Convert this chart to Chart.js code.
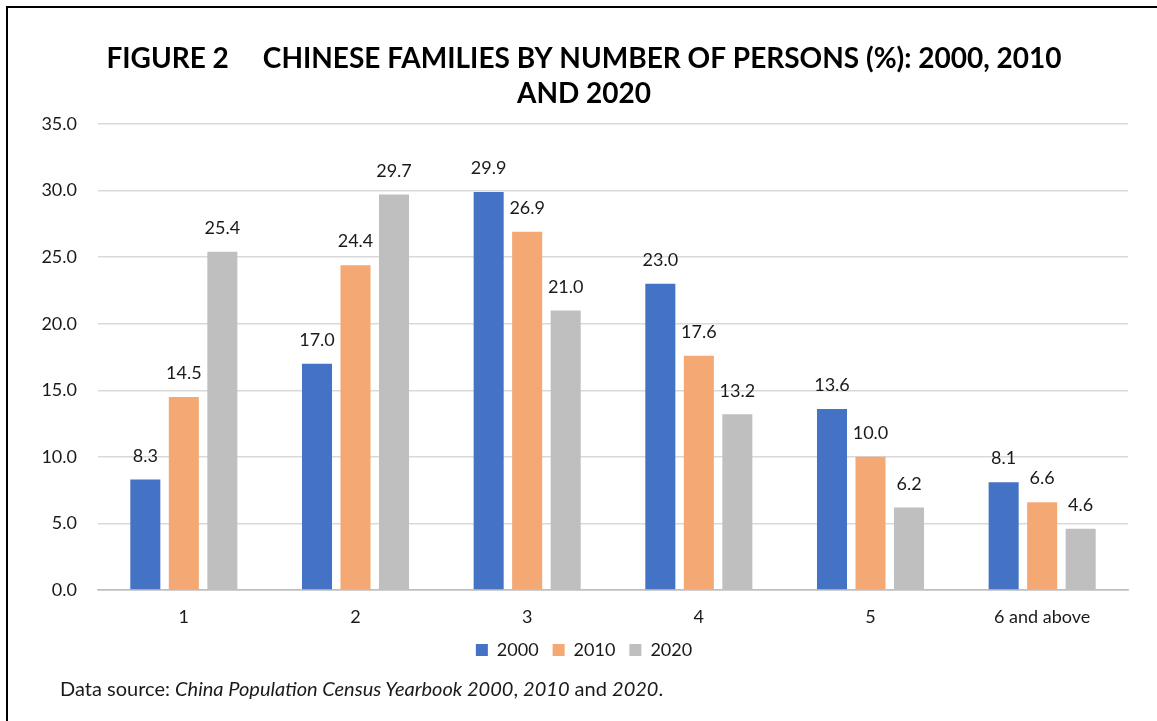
<!DOCTYPE html>
<html>
<head>
<meta charset="utf-8">
<title>Chinese families by number of persons</title>
<script src="https://cdn.jsdelivr.net/npm/chart.js@4.4.1/dist/chart.umd.min.js"></script>
<style>
  html, body { margin: 0; padding: 0; background: #ffffff; }
  #wrap { position: relative; width: 1157px; height: 721px; overflow: hidden; }
  #frame { position: absolute; left: 6px; top: 6px; right: -10px; bottom: -10px;
           border-left: 2px solid #000; border-top: 2px solid #000; pointer-events: none; }
  #source { position: absolute; left: 60px; top: 676px; font-family: Lato, sans-serif;
            font-size: 20px; line-height: 24px; color: #1a1a1a; white-space: nowrap; }
</style>
</head>
<body>
<div id="wrap">
  <canvas id="chart" width="1157" height="721"></canvas>
  <div id="frame"></div>
  <div id="source">Data source: <i>China Population Census Yearbook 2000</i>, <i>2010</i> and <i>2020</i>.</div>
</div>
<script>
// Household size categories
const categories = ['1', '2', '3', '4', '5', '6 and above'];

// Share of families (%) by census year
const series2000 = [8.3, 17.0, 29.9, 23.0, 13.6, 8.1];
const series2010 = [14.5, 24.4, 26.9, 17.6, 10.0, 6.6];
const series2020 = [25.4, 29.7, 21.0, 13.2, 6.2, 4.6];
const seriesNames = ['2000', '2010', '2020'];

// Y axis range
const yMin = 0;
const yMax = 35;
const yStep = 5;

const titleLines = ['FIGURE 2\u00a0\u00a0\u00a0\u00a0\u00a0CHINESE FAMILIES BY NUMBER OF PERSONS (%): 2000, 2010', 'AND 2020'];

const colors = ['#4472C4', '#F4A874', '#BFBFBF'];
const textColor = '#1a1a1a';
const baseFont = 'Lato, "Open Sans", sans-serif';

// Value labels drawn above every bar
const valueLabels = {
  id: 'valueLabels',
  afterDatasetsDraw(chart) {
    const ctx = chart.ctx;
    ctx.save();
    ctx.font = '18px ' + baseFont;
    ctx.fillStyle = textColor;
    ctx.textAlign = 'center';
    ctx.textBaseline = 'middle';
    chart.data.datasets.forEach((ds, i) => {
      const meta = chart.getDatasetMeta(i);
      meta.data.forEach((bar, j) => {
        ctx.fillText(ds.data[j].toFixed(1), bar.x, bar.y - 23.5);
      });
    });
    ctx.restore();
  }
};

const values = [series2000, series2010, series2020];

new Chart(document.getElementById('chart'), {
  type: 'bar',
  data: {
    labels: categories,
    datasets: values.map((v, i) => ({
      label: seriesNames[i],
      data: v,
      backgroundColor: colors[i],
      borderWidth: 0,
      categoryPercentage: 0.673,
      barPercentage: 0.78
    }))
  },
  options: {
    responsive: false,
    animation: false,
    devicePixelRatio: 1,
    layout: { padding: { left: 40, right: 29, top: 0, bottom: 52 } },
    plugins: {
      title: {
        display: true,
        text: titleLines,
        color: '#000',
        font: { family: baseFont, size: 28, weight: 'bold', lineHeight: 1.25 },
        padding: { top: 41, bottom: 13 }
      },
      legend: {
        display: true,
        position: 'bottom',
        labels: {
          color: textColor,
          font: { family: baseFont, size: 18 },
          boxWidth: 12,
          boxHeight: 12,
          padding: 14
        }
      },
      tooltip: { enabled: false }
    },
    scales: {
      x: {
        grid: { display: false, drawTicks: false },
        border: { display: true, color: '#BFBFBF', width: 1.5 },
        ticks: { color: textColor, font: { family: baseFont, size: 18 }, padding: 16 },
        afterFit(scale) { scale.height = 37; }
      },
      y: {
        min: yMin,
        max: yMax,
        grid: {
          drawTicks: false,
          lineWidth: 1.5,
          color: (c) => (c.tick && c.tick.value === 0 ? '#BFBFBF' : '#D9D9D9')
        },
        border: { display: false },
        ticks: {
          stepSize: yStep,
          color: textColor,
          font: { family: baseFont, size: 18 },
          padding: 21,
          callback: (v) => Number(v).toFixed(1)
        },
        afterFit(scale) { scale.width = 58; }
      }
    }
  },
  plugins: [valueLabels]
});
</script>
</body>
</html>
